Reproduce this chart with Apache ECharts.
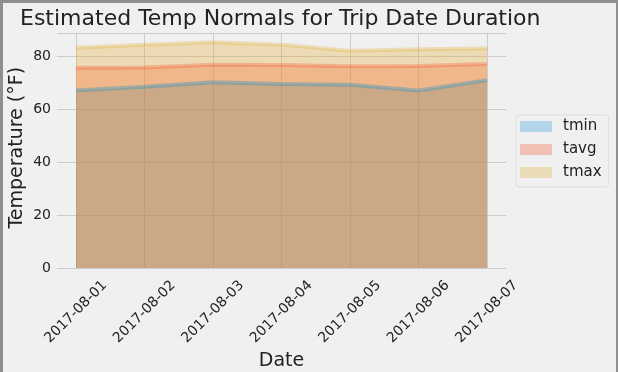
<!DOCTYPE html>
<html><head><meta charset="utf-8">
<script src="https://cdn.jsdelivr.net/npm/echarts@6/dist/echarts.min.js"></script>
<style>html,body{margin:0;padding:0;background:#f0f0f0;}#c{width:618px;height:372px;}</style>
</head><body><div id="c"></div>
<script>
const dates = ['2017-08-01','2017-08-02','2017-08-03','2017-08-04','2017-08-05','2017-08-06','2017-08-07'];
const tmin = [67.0, 68.4, 70.1, 69.4, 69.2, 67.0, 70.9];
const tavg = [75.6, 75.7, 76.7, 76.6, 76.1, 76.2, 77.0];
const tmax = [83.1, 84.3, 85.2, 84.3, 82.0, 82.6, 82.8];
const yTicks = [0, 20, 40, 60, 80];

const colors = {tmin:'#008fd5', tavg:'#fc4f30', tmax:'#e5ae38'};
const legendColors = {tmin:'#b2d5ea', tavg:'#efc0b3', tmax:'#e9dcb6'};
const font = 'DejaVu Sans';
const chart = echarts.init(document.getElementById('c'), null, {renderer:'canvas'});
const yMax = 88.5;
function mk(name, data){
  return {
    name, type:'line', data, xAxisIndex:1, yAxisIndex:1, symbol:'none', smooth:false,
    color: colors[name],
    lineStyle:{color:colors[name], width:4, opacity:0.3},
    areaStyle:{color:colors[name], opacity:0.32},
    itemStyle:{color:legendColors[name]}
  };
}
chart.setOption({
  animation:false,
  backgroundColor:'#f0f0f0',
  textStyle:{fontFamily:font},
  title:{text:'Estimated Temp Normals for Trip Date Duration', left:15, top:3,
    textStyle:{fontFamily:font, fontSize:22, fontWeight:'normal', color:'#222'}},
  grid:[
    {left:57, right:112, top:33.5, bottom:104, containLabel:false, outerBoundsMode:'none'},
    {left:76, right:131, top:33.5, bottom:104, containLabel:false, outerBoundsMode:'none'}
  ],
  xAxis:[
    {gridIndex:0, type:'value', show:false, min:0, max:1},
    {gridIndex:1, type:'category', data:dates, boundaryGap:false,
      axisLine:{show:false}, axisTick:{show:false},
      axisLabel:{rotate:45, interval:0, fontSize:14, color:'#222', fontFamily:font, margin:44,
        align:'center', verticalAlign:'middle', hideOverlap:false},
      splitLine:{show:true, lineStyle:{color:'#cbcbcb', width:1}},
      name:'Date', nameLocation:'middle', nameGap:84, nameMoveOverlap:false,
      nameTextStyle:{fontSize:19, color:'#222', fontFamily:font}}
  ],
  yAxis:[
    {gridIndex:0, type:'value', min:0, max:yMax, interval:20,
      axisLine:{show:false}, axisTick:{show:false},
      axisLabel:{fontSize:14, color:'#222', fontFamily:font, margin:6,
        formatter:v => yTicks.includes(v) ? String(v) : ''},
      splitLine:{show:true, lineStyle:{color:'#cbcbcb', width:1}},
      name:'Temperature (°F)', nameLocation:'middle', nameGap:30, nameRotate:90, nameMoveOverlap:false,
      nameTextStyle:{fontSize:19, color:'#222', fontFamily:font, padding:[0,0,0,6]}},
    {gridIndex:1, type:'value', min:0, max:yMax, show:false, splitLine:{show:false}}
  ],
  legend:{
    data:['tmin','tavg','tmax'], orient:'vertical', left:516, top:115,
    icon:'rect', itemWidth:32, itemHeight:11, itemGap:8,
    backgroundColor:'#f0f0f0', borderColor:'#dddddd', borderWidth:1, borderRadius:3,
    padding:[4,7,7,4],
    textStyle:{fontSize:15, color:'#222', fontFamily:font, padding:[0,0,0,6]}
  },
  series:[mk('tmin', tmin), mk('tavg', tavg), mk('tmax', tmax)],
  graphic:[
    {type:'rect', shape:{x:0,y:0,width:3,height:372}, style:{fill:'#8f8f8f'}, silent:true},
    {type:'rect', shape:{x:0,y:0,width:618,height:3}, style:{fill:'#8f8f8f'}, silent:true},
    {type:'rect', shape:{x:616,y:0,width:2,height:372}, style:{fill:'#8f8f8f'}, silent:true}
  ]
});
</script></body></html>
